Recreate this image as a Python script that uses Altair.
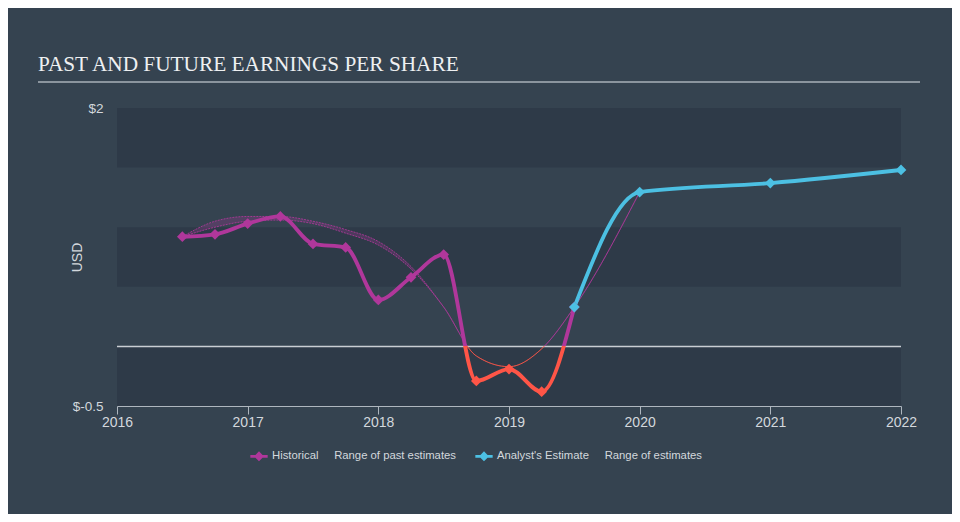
import json
import altair as alt
import pandas as pd

# ---------------- data ----------------
title_text = "PAST AND FUTURE EARNINGS PER SHARE"
y_title = "USD"

hist_x = [2016.5, 2016.75, 2017.0, 2017.25, 2017.5, 2017.75, 2018.0, 2018.25,
          2018.5, 2018.75, 2019.0, 2019.25, 2019.5]
hist_eps = [0.92, 0.94, 1.03, 1.09, 0.86, 0.83, 0.39, 0.58,
            0.77, -0.29, -0.19, -0.38, 0.33]

est_x = [2019.5, 2020.0, 2021.0, 2022.0]
est_eps = [0.33, 1.295, 1.37, 1.48]

range_x = [2016.5, 2016.75, 2017.0, 2017.25, 2017.5, 2017.75, 2018.0, 2018.25,
           2018.5, 2018.75, 2019.0, 2019.25, 2019.5, 2020.0]
range_low = [0.92, 1.00, 1.05, 1.06, 1.03, 0.95, 0.85, 0.65,
             0.33, -0.08, -0.17, -0.02, 0.33, 1.295]
range_high = [0.92, 1.05, 1.09, 1.09, 1.05, 0.98, 0.88, 0.67,
              0.33, -0.08, -0.17, -0.02, 0.33, 1.295]

band_lo = [1.5, 0.5, -0.5]
band_hi = [2.0, 1.0, 0.0]
zero_line = [0]

x_ticks = [2016, 2017, 2018, 2019, 2020, 2021, 2022]
y_ticks = [-0.5, 2]

series_names = ["Historical", "Analyst's Estimate"]
range_names = ["Range of past estimates", "Range of estimates"]

# ---------------- styles ----------------
BG = "#354350"
BAND = "#2e3a48"
MAG = "#b0379b"
RED = "#ff5547"
CYAN = "#4cc0e3"
TXT = "#d3d8dd"
AXIS = "#aeb6be"
FONT = "Liberation Sans"

hist_df = pd.DataFrame({"year": hist_x, "eps": hist_eps, "series": series_names[0]})
est_df = pd.DataFrame({"year": est_x, "eps": est_eps, "series": series_names[1]})
pts_df = pd.concat([hist_df, est_df], ignore_index=True)
range_df = pd.DataFrame({"year": range_x, "lo": range_low, "hi": range_high})
band_df = pd.DataFrame({"lo": band_lo, "hi": band_hi})
zero_df = pd.DataFrame({"v": zero_line})


def split_gradient(vmax, vmin, top, bottom):
    frac = vmax / (vmax - vmin)
    return alt.Gradient(
        gradient="linear", x1=0, x2=0, y1=0, y2=1,
        stops=[alt.GradientStop(color=top, offset=0),
               alt.GradientStop(color=top, offset=frac),
               alt.GradientStop(color=bottom, offset=frac),
               alt.GradientStop(color=bottom, offset=1)],
    )


x_scale = alt.Scale(domain=[x_ticks[0], x_ticks[-1]], nice=False, zero=False)
y_scale = alt.Scale(domain=[y_ticks[0], y_ticks[-1]], nice=False, zero=False)

x_enc = alt.X("year:Q", scale=x_scale, axis=alt.Axis(
    values=x_ticks, format="d", title=None, grid=False, labelFlush=False,
    domainColor=AXIS, tickColor=AXIS, tickSize=8, labelPadding=1,
    labelFontSize=14, labelColor=TXT, labelFont=FONT))

y_axis = alt.Axis(
    values=y_ticks, labelExpr="'$' + datum.value", title=y_title,
    ticks=False, domain=False, grid=False, labelPadding=14,
    labelFontSize=13.5, labelColor=TXT, labelFont=FONT,
    titleX=-40, titleY=149, titleAngle=-90, titleAlign="center",
    titleBaseline="middle", titleFontSize=14, titleFontWeight="normal",
    titleColor=TXT, titleFont=FONT)

bands = alt.Chart(band_df).mark_rect(color=BAND).encode(
    y=alt.Y("lo:Q", scale=y_scale, axis=y_axis), y2="hi:Q")

zero = alt.Chart(zero_df).mark_rule(color="#c9ced3", strokeWidth=1.5).encode(
    y=alt.Y("v:Q", scale=y_scale))

rng_max = max(range_high)
rng_min = min(range_low)
range_area = alt.Chart(range_df).mark_area(
    interpolate="monotone", color=MAG, opacity=0.25).encode(
    x=x_enc, y=alt.Y("lo:Q", scale=y_scale), y2="hi:Q")
range_hi_line = alt.Chart(range_df).mark_line(
    interpolate="monotone", strokeWidth=1, opacity=0.85,
    stroke=split_gradient(rng_max, rng_min, MAG, RED), strokeDash=[2, 1]).encode(
    x=x_enc, y=alt.Y("hi:Q", scale=y_scale))
range_lo_line = alt.Chart(range_df).mark_line(
    interpolate="monotone", strokeWidth=1, opacity=0.85,
    stroke=split_gradient(rng_max, rng_min, MAG, RED), strokeDash=[2, 1]).encode(
    x=x_enc, y=alt.Y("lo:Q", scale=y_scale))

hist_line = alt.Chart(hist_df).mark_line(
    interpolate="monotone", strokeWidth=3.8,
    stroke=split_gradient(max(hist_eps), min(hist_eps), MAG, RED)).encode(
    x=x_enc, y=alt.Y("eps:Q", scale=y_scale))

est_line = alt.Chart(est_df).mark_line(
    interpolate="monotone", strokeWidth=3.8, color=CYAN).encode(
    x=x_enc, y=alt.Y("eps:Q", scale=y_scale))

nb = "\u00a0" * 5
label_map = {series_names[0]: series_names[0] + nb + range_names[0],
             series_names[1]: series_names[1] + nb + range_names[1]}
label_expr = "datum.label == {} ? {} : {}".format(
    json.dumps(series_names[0], ensure_ascii=False),
    json.dumps(label_map[series_names[0]], ensure_ascii=False),
    json.dumps(label_map[series_names[1]], ensure_ascii=False))

legend_symbol = ("M-1,-0.17L-0.41,-0.17L0,-0.58L0.41,-0.17L1,-0.17L1,0.17L0.41,0.17"
                 "L0,0.58L-0.41,0.17L-1,0.17Z")

points = alt.Chart(pts_df).mark_point(
    shape="diamond", filled=True, size=115, opacity=1, strokeWidth=0).encode(
    x=x_enc, y=alt.Y("eps:Q", scale=y_scale),
    color=alt.condition(
        "datum.eps < 0 && datum.series == '" + series_names[0] + "'",
        alt.value(RED),
        alt.Color("series:N",
                  scale=alt.Scale(domain=series_names, range=[MAG, CYAN]),
                  legend=alt.Legend(
                      orient="none", legendX=133, legendY=339,
                      direction="horizontal", title=None,
                      labelExpr=label_expr, labelLimit=400,
                      symbolType=legend_symbol, symbolSize=300,
                      symbolStrokeWidth=0, symbolOpacity=1,
                      labelFont=FONT, labelFontSize=11.3, labelColor=TXT,
                      labelOffset=4, columnPadding=19))))

underline = alt.Chart(zero_df).mark_rule(color="#a9b1b9", strokeWidth=1.5).encode(
    x=alt.value(-79), x2=alt.value(803), y=alt.value(-26))

chart = alt.layer(
    bands, zero, range_area, range_hi_line, range_lo_line,
    hist_line, est_line, points, underline
).properties(
    width=784, height=298,
    padding={"left": 109, "top": 100, "right": 51, "bottom": 108},
    autosize=alt.AutoSizeParams(type="none"),
    background=BG,
    title=alt.Title(title_text, anchor="start", frame="group", dx=-79, dy=46,
                    offset=35, baseline="alphabetic", font="Liberation Serif",
                    fontSize=21.3, fontWeight="normal", color="#eef0f2"),
).configure_view(stroke=None)

chart.save("out.html", embed_options={"renderer": "svg", "actions": False})
